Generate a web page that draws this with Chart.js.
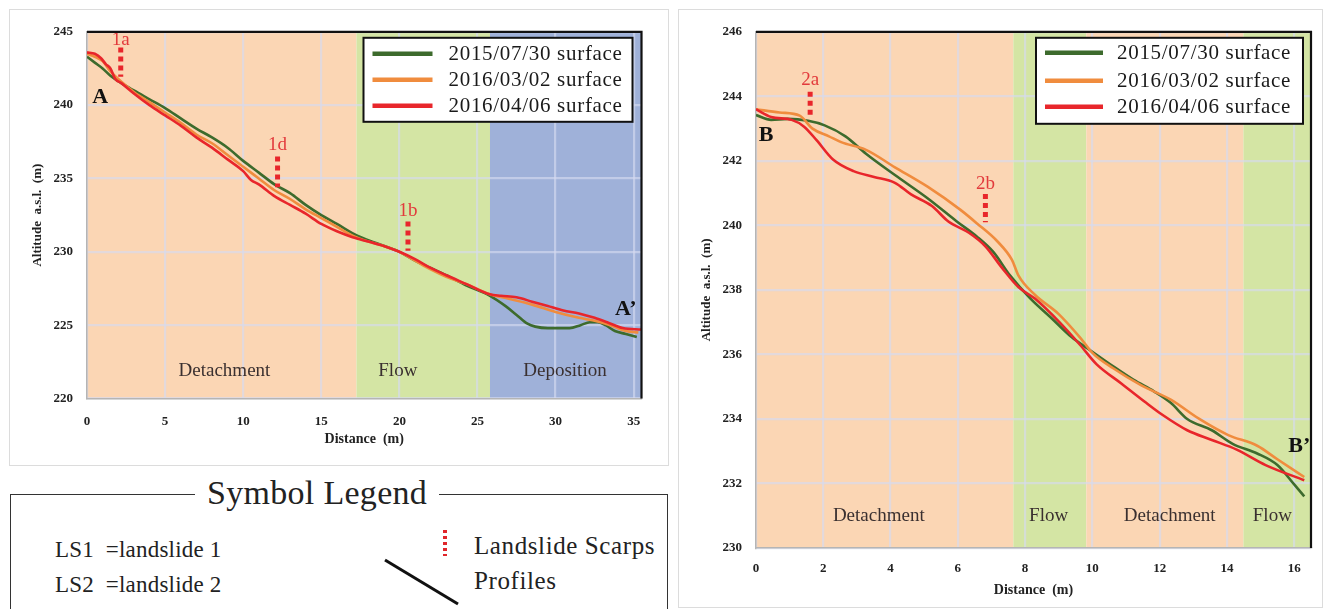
<!DOCTYPE html>
<html>
<head>
<meta charset="utf-8">
<script src="https://cdn.jsdelivr.net/npm/chart.js@4.4.1/dist/chart.umd.min.js"></script>
<style>
  html, body { margin:0; padding:0; background:#fff; }
  body { width:1327px; height:609px; overflow:hidden; position:relative; font-family:"Liberation Serif", serif; }
  .panel { position:absolute; border:1px solid #dcdcdc; background:#fff; }
  .panel canvas { position:absolute; left:0; top:0; }
  #sym { position:absolute; left:10px; top:494px; width:656px; height:140px; border:1.5px solid #333; border-bottom:none; }
  #symTitle { position:absolute; left:184px; top:-22px; padding:0 12px; background:#fff; font-size:34px; color:#222; line-height:40px; letter-spacing:0.3px; }
  .symtxt { position:absolute; font-size:23px; color:#222; letter-spacing:0.2px; line-height:28px; white-space:nowrap; }
  .symtxt.big { font-size:25px; letter-spacing:0.6px; }
</style>
</head>
<body>
<div class="panel" id="p1" style="left:9px;top:9px;width:658px;height:455px;"><canvas id="c1" width="658" height="455" style="width:658px;height:455px"></canvas></div>
<div class="panel" id="p2" style="left:678px;top:9px;width:643px;height:597px;"><canvas id="c2" width="643" height="597" style="width:643px;height:597px"></canvas></div>

<div id="sym">
  <div id="symTitle">Symbol Legend</div>
</div>
<div class="symtxt" style="left:55px;top:536px;">LS1&nbsp;&nbsp;=landslide 1</div>
<div class="symtxt" style="left:55px;top:571px;">LS2&nbsp;&nbsp;=landslide 2</div>
<div class="symtxt big" style="left:474px;top:532px;">Landslide Scarps</div>
<div class="symtxt big" style="left:474px;top:567px;">Profiles</div>
<svg style="position:absolute;left:0;top:0;" width="1327" height="609">
  <line x1="445" y1="530" x2="445" y2="556" stroke="#e0262b" stroke-width="4" stroke-dasharray="3,3"/>
  <line x1="385" y1="560" x2="458" y2="604" stroke="#111" stroke-width="3"/>
</svg>

<script>
// ---------------- DATA ----------------
const seriesLabels = ['2015/07/30 surface', '2016/03/02 surface', '2016/04/06 surface'];

// Profile A - A' (landslide 1)
const aX2015 = [0, 0.5, 1.0, 1.5, 2.2, 3.0, 4.0, 5.0, 6.0, 7.0, 8.0, 9.0, 10.0, 11.0, 12.0, 13.0, 14.0, 15.0, 16.0, 17.3, 18.5, 20.0, 21.0, 22.0, 23.0, 24.3, 25.8, 26.8, 27.5, 28.2, 28.7, 29.5, 30.9, 31.6, 32.2, 32.7, 33.2, 33.8, 34.5, 35.2];
const aY2015 = [243.3, 242.9, 242.5, 242.0, 241.5, 241.0, 240.4, 239.8, 239.1, 238.4, 237.8, 237.1, 236.2, 235.4, 234.6, 234.0, 233.2, 232.5, 231.9, 231.1, 230.6, 230.0, 229.4, 228.9, 228.4, 227.7, 227.0, 226.3, 225.7, 225.1, 224.9, 224.8, 224.8, 225.0, 225.2, 225.2, 225.0, 224.6, 224.4, 224.2];
const aX201603 = [0, 0.5, 1.0, 1.5, 2.2, 3.0, 4.0, 5.0, 6.0, 7.0, 8.0, 9.0, 10.0, 11.0, 12.0, 13.0, 14.0, 15.0, 16.0, 17.0, 18.0, 19.0, 20.0, 21.0, 22.0, 23.0, 24.3, 25.8, 27.0, 28.5, 30.0, 31.5, 32.5, 33.5, 34.5, 35.3];
const aY201603 = [243.5, 243.3, 243.0, 242.3, 241.6, 240.9, 240.2, 239.5, 238.8, 238.0, 237.4, 236.6, 235.8, 235.0, 234.2, 233.6, 232.9, 232.3, 231.7, 231.1, 230.7, 230.4, 230.0, 229.4, 228.8, 228.3, 227.8, 227.1, 226.8, 226.4, 225.9, 225.5, 225.3, 225.0, 224.6, 224.5];
const aX201604 = [0, 0.5, 0.9, 1.2, 1.5, 1.8, 2.2, 3.0, 4.0, 5.0, 6.0, 7.0, 8.0, 9.0, 10.0, 10.5, 11.0, 12.0, 13.0, 14.0, 15.0, 16.0, 17.0, 18.0, 19.0, 20.0, 21.0, 22.0, 23.0, 24.3, 25.8, 26.5, 27.5, 28.5, 29.5, 30.5, 31.5, 32.5, 33.3, 34.3, 35.5];
const aY201604 = [243.6, 243.5, 243.2, 242.8, 242.5, 241.8, 241.5, 240.8, 240.0, 239.3, 238.6, 237.8, 237.1, 236.3, 235.5, 234.9, 234.6, 233.8, 233.2, 232.6, 231.9, 231.4, 231.0, 230.7, 230.4, 230.0, 229.5, 228.9, 228.4, 227.8, 227.1, 227.0, 226.9, 226.6, 226.3, 226.0, 225.8, 225.5, 225.2, 224.8, 224.7];

const aXTicks = [0, 5, 10, 15, 20, 25, 30, 35];
const aYTicks = [220, 225, 230, 235, 240, 245];
const aXRange = [0, 35.5];
const aYRange = [220, 245];
const aZoneEdges = [0, 17.25, 25.8, 35.5];
const aZoneNames = ['Detachment', 'Flow', 'Deposition'];
const aZoneLabelX = [8.8, 19.9, 30.6];
const aZoneLabelY = 221.9;
const aScarpNames = ['1a', '1d', '1b'];
const aScarpX = [2.16, 12.2, 20.55];
const aScarpTop = [243.93, 236.5, 232.07];
const aScarpBottom = [241.93, 234.4, 230.07];
const aScarpLabelY = [244.45, 237.25, 232.8];
const aEndNames = ['A', 'A\u2019'];
const aEndX = [0.85, 34.5];
const aEndY = [240.5, 226.1];

// Profile B - B' (landslide 2)
const bX2015 = [0, 0.45, 0.94, 1.55, 2.04, 2.66, 3.27, 4.13, 5.1, 5.96, 6.57, 7.06, 7.55, 8.16, 8.78, 9.39, 9.88, 10.62, 11.23, 11.84, 12.33, 12.82, 13.55, 14.17, 14.9, 15.5, 16.0, 16.3];
const bY2015 = [243.42, 243.27, 243.3, 243.24, 243.1, 242.76, 242.22, 241.56, 240.84, 240.13, 239.65, 239.17, 238.45, 237.73, 237.13, 236.53, 236.17, 235.63, 235.21, 234.85, 234.5, 234.0, 233.65, 233.23, 232.93, 232.57, 231.97, 231.6];
const bX201603 = [0, 0.7, 1.3, 1.68, 2.17, 2.53, 3.27, 4.13, 5.1, 6.08, 6.57, 7.18, 7.61, 7.8, 8.29, 9.0, 9.63, 10.0, 10.62, 11.47, 12.33, 13.18, 14.04, 14.9, 15.5, 16.3];
const bY201603 = [243.6, 243.5, 243.4, 243.0, 242.76, 242.58, 242.34, 241.8, 241.2, 240.48, 240.06, 239.5, 238.93, 238.45, 237.85, 237.25, 236.53, 236.05, 235.57, 235.03, 234.6, 234.0, 233.5, 233.17, 232.75, 232.2];
const bX201604 = [0, 0.45, 1.06, 1.43, 1.8, 2.29, 2.9, 3.51, 4.13, 4.61, 5.23, 5.72, 6.33, 6.82, 7.31, 7.8, 8.29, 9.02, 9.63, 10.12, 10.86, 11.6, 12.08, 12.82, 13.55, 14.29, 15.15, 16.3];
const bY201604 = [243.6, 243.36, 243.27, 243.06, 242.64, 242.04, 241.68, 241.5, 241.32, 240.96, 240.6, 240.12, 239.77, 239.35, 238.69, 238.09, 237.73, 237.0, 236.3, 235.7, 235.1, 234.5, 234.13, 233.65, 233.35, 233.05, 232.57, 232.1];

const bXTicks = [0, 2, 4, 6, 8, 10, 12, 14, 16];
const bYTicks = [230, 232, 234, 236, 238, 240, 242, 244, 246];
const bXRange = [0, 16.5];
const bYRange = [230, 246];
const bZoneEdges = [0, 7.65, 9.82, 14.49, 16.5];
const bZoneNames = ['Detachment', 'Flow', 'Detachment', 'Flow'];
const bZoneLabelX = [3.65, 8.7, 12.3, 15.35];
const bZoneLabelY = 231.0;
const bScarpNames = ['2a', '2b'];
const bScarpX = [1.61, 6.82];
const bScarpTop = [244.14, 240.97];
const bScarpBottom = [243.32, 240.1];
const bScarpLabelY = [244.5, 241.28];
const bEndNames = ['B', 'B\u2019'];
const bEndX = [0.3, 16.15];
const bEndY = [242.8, 233.15];

// ---------------- STYLE ----------------
const SERIES_COLORS = ['#3d6b2d', '#f08c3e', '#e8262b'];
const ZONE_COLORS = { 'Detachment': '#fbd6b4', 'Flow': '#d4e5a4', 'Deposition': '#9fb1d9' };
const SCARP_COLOR = '#e8262b';
const FONT = '"Liberation Serif", serif';

function pts(xs, ys) { return xs.map((x, i) => ({ x: x, y: ys[i] })); }

const decorPlugin = {
  id: 'decor',
  beforeDraw(chart, args, o) {
    const { ctx, chartArea: ca, scales: { x } } = chart;
    ctx.save();
    ctx.beginPath(); ctx.rect(ca.left, ca.top, ca.right - ca.left, ca.bottom - ca.top); ctx.clip();
    for (let i = 0; i < o.zoneNames.length; i++) {
      const x0 = x.getPixelForValue(o.zoneEdges[i]);
      const x1 = x.getPixelForValue(o.zoneEdges[i + 1]);
      ctx.fillStyle = ZONE_COLORS[o.zoneNames[i]];
      ctx.fillRect(x0, ca.top, x1 - x0, ca.bottom - ca.top);
    }
    ctx.restore();
  },
  afterDatasetsDraw(chart, args, o) {
    const { ctx, chartArea: ca, scales: { x, y } } = chart;
    ctx.save();
    ctx.textAlign = 'center'; ctx.textBaseline = 'middle';
    ctx.fillStyle = '#3a3030';
    ctx.font = '19px ' + FONT;
    o.zoneNames.forEach((n, i) => ctx.fillText(n, x.getPixelForValue(o.zoneLabelX[i]), y.getPixelForValue(o.zoneLabelY)));
    ctx.fillStyle = '#e23a3c';
    ctx.font = '19px ' + FONT;
    o.scarpNames.forEach((n, i) => ctx.fillText(n, x.getPixelForValue(o.scarpX[i]), y.getPixelForValue(o.scarpLabelY[i])));
    ctx.fillStyle = '#111';
    ctx.font = 'bold 22px ' + FONT;
    o.endNames.forEach((n, i) => ctx.fillText(n, x.getPixelForValue(o.endX[i]), y.getPixelForValue(o.endY[i])));
    ctx.strokeStyle = '#111'; ctx.lineWidth = 2.2;
    ctx.beginPath();
    ctx.moveTo(ca.left, ca.top); ctx.lineTo(ca.right, ca.top); ctx.lineTo(ca.right, ca.bottom);
    ctx.stroke();
    const L = o.legend;
    const bx = ca.right - L.right - L.w, by = ca.top + L.top;
    ctx.fillStyle = '#fff';
    ctx.fillRect(bx, by, L.w, L.h);
    ctx.strokeStyle = '#111'; ctx.lineWidth = 2;
    ctx.strokeRect(bx, by, L.w, L.h);
    ctx.textAlign = 'left';
    ctx.font = '21px ' + FONT;
    if ('letterSpacing' in ctx) ctx.letterSpacing = '0.7px';
    seriesLabels.forEach((lab, i) => {
      const ry = by + L.rows[i];
      ctx.strokeStyle = SERIES_COLORS[i]; ctx.lineWidth = 4.5;
      ctx.beginPath(); ctx.moveTo(bx + L.lineX0, ry); ctx.lineTo(bx + L.lineX1, ry); ctx.stroke();
      ctx.fillStyle = '#1a1a1a';
      ctx.fillText(lab, bx + L.textX, ry + 1);
    });
    ctx.restore();
  }
};

function makeChart(canvasId, d) {
  const datasets = [];
  d.scarpX.forEach((sx, i) => {
    datasets.push({
      data: [{ x: sx, y: d.scarpTop[i] }, { x: sx, y: d.scarpBottom[i] }],
      borderColor: SCARP_COLOR, borderWidth: 5, borderDash: [5, 4], pointRadius: 0, tension: 0
    });
  });
  [2, 1, 0].forEach(k => {
    datasets.push({
      label: seriesLabels[k],
      data: pts(d.xs[k], d.ys[k]),
      borderColor: SERIES_COLORS[k], borderWidth: 2.6, pointRadius: 0, tension: 0.25,
      cubicInterpolationMode: 'monotone'
    });
  });
  const gridColor = 'rgba(214,218,240,0.65)';
  return new Chart(document.getElementById(canvasId), {
    type: 'line',
    data: { datasets },
    plugins: [decorPlugin],
    options: {
      responsive: false, animation: false, devicePixelRatio: 1,
      layout: { padding: d.padding },
      plugins: {
        legend: { display: false }, tooltip: { enabled: false },
        decor: d
      },
      scales: {
        x: {
          type: 'linear', min: d.xRange[0], max: d.xRange[1],
          afterBuildTicks: s => { s.ticks = d.xTicks.map(v => ({ value: v })); },
          afterFit: s => { s.height = d.xAxisH; },
          grid: { color: gridColor, lineWidth: 2.2, drawTicks: false },
          border: { color: '#b5b5b5', width: 1.5 },
          ticks: { font: { family: FONT, size: 13, weight: 'bold' }, color: '#222', padding: d.xTickPad, maxRotation: 0 },
          title: { display: true, text: 'Distance  (m)', font: { family: FONT, size: 14, weight: 'bold' }, color: '#222', padding: { top: 0, bottom: d.xTitlePad } }
        },
        y: {
          type: 'linear', min: d.yRange[0], max: d.yRange[1],
          afterBuildTicks: s => { s.ticks = d.yTicks.map(v => ({ value: v })); },
          afterFit: s => { s.width = d.yAxisW; },
          grid: { color: gridColor, lineWidth: 2.2, drawTicks: false },
          border: { color: '#b5b5b5', width: 1.5 },
          ticks: { font: { family: FONT, size: 13, weight: 'bold' }, color: '#222', padding: 14 },
          title: { display: true, text: 'Altitude  a.s.l.  (m)', font: { family: FONT, size: 13, weight: 'bold' }, color: '#222', padding: { top: 20, bottom: 0 } }
        }
      }
    }
  });
}

makeChart('c1', {
  xs: [aX2015, aX201603, aX201604], ys: [aY2015, aY201603, aY201604],
  xTicks: aXTicks, yTicks: aYTicks, xRange: aXRange, yRange: aYRange,
  zoneEdges: aZoneEdges, zoneNames: aZoneNames, zoneLabelX: aZoneLabelX, zoneLabelY: aZoneLabelY,
  scarpNames: aScarpNames, scarpX: aScarpX, scarpTop: aScarpTop, scarpBottom: aScarpBottom, scarpLabelY: aScarpLabelY,
  endNames: aEndNames, endX: aEndX, endY: aEndY,
  padding: { left: 0, top: 14, right: 26.5, bottom: 0 },
  yAxisW: 77, xAxisH: 66.5, xTickPad: 15, xTitlePad: 17,
  legend: { right: 9, top: 6, w: 269, h: 84, rows: [16, 42, 68], lineX0: 9, lineX1: 69, textX: 85 }
});

makeChart('c2', {
  xs: [bX2015, bX201603, bX201604], ys: [bY2015, bY201603, bY201604],
  xTicks: bXTicks, yTicks: bYTicks, xRange: bXRange, yRange: bYRange,
  zoneEdges: bZoneEdges, zoneNames: bZoneNames, zoneLabelX: bZoneLabelX, zoneLabelY: bZoneLabelY,
  scarpNames: bScarpNames, scarpX: bScarpX, scarpTop: bScarpTop, scarpBottom: bScarpBottom, scarpLabelY: bScarpLabelY,
  endNames: bEndNames, endX: bEndX, endY: bEndY,
  padding: { left: 0, top: 16, right: 11, bottom: 0 },
  yAxisW: 77, xAxisH: 59, xTickPad: 13, xTitlePad: 8,
  legend: { right: 8, top: 6, w: 267, h: 86, rows: [15, 43, 69], lineX0: 9, lineX1: 67, textX: 81 }
});
</script>
</body>
</html>
